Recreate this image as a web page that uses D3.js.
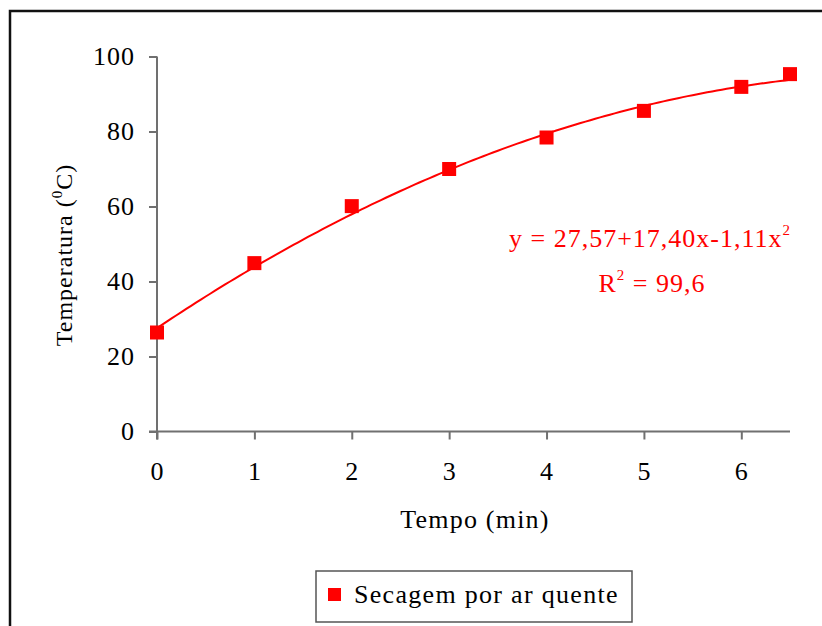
<!DOCTYPE html>
<html>
<head>
<meta charset="utf-8">
<script src="https://cdn.jsdelivr.net/npm/d3@7/dist/d3.min.js"></script>
<style>
  html, body { margin: 0; padding: 0; background: #fff; }
  svg text { font-family: "Liberation Serif", "Times New Roman", serif; }
</style>
</head>
<body>
<svg id="chart" width="822" height="626"></svg>
<script>
// Measured drying temperatures (°C) over time (min)
const tempo = [0, 1, 2, 3, 4, 5, 6, 6.5];
const temperatura = [26.4, 44.9, 60.1, 70.0, 78.4, 85.5, 91.9, 95.3];
// Quadratic fit: y = c0 + c1*x + c2*x^2
const coeficientes = [27.57, 17.40, -1.11];
const xTicks = [0, 1, 2, 3, 4, 5, 6];
const yTicks = [0, 20, 40, 60, 80, 100];
const serieNome = "Secagem por ar quente";

const svg = d3.select("#chart");
const red = "#ff0000";
const axisColor = "#707070";
const serif = "'Liberation Serif', 'Times New Roman', serif";

// outer frame
svg.append("rect")
  .attr("x", 10).attr("y", 11).attr("width", 840).attr("height", 640)
  .attr("fill", "none").attr("stroke", "#111").attr("stroke-width", 2.5);

const x = d3.scaleLinear().domain([0, 6.5]).range([157, 790]);
const y = d3.scaleLinear().domain([0, 100]).range([431.5, 56.5]);

const fontSize = 26;

// y axis
const yAxis = svg.append("g").attr("transform", `translate(${x(0)},0)`)
  .call(d3.axisLeft(y).tickValues(yTicks).tickSize(8).tickPadding(14).tickFormat(d3.format("d")));
// x axis
const xAxis = svg.append("g").attr("transform", `translate(0,${y(0)})`)
  .call(d3.axisBottom(x).tickValues(xTicks).tickSize(8).tickPadding(22).tickFormat(d3.format("d")));
xAxis.select(".domain").attr("d", `M${x(0) - 8},0H${x(6.5)}`);
yAxis.select(".domain").attr("d", `M0,${y(0) + 8}V${y(100)}`);

[xAxis, yAxis].forEach(g => {
  g.attr("font-family", serif);
  g.selectAll(".domain, .tick line").attr("stroke", axisColor).attr("stroke-width", 2);
  g.selectAll(".tick text")
    .attr("fill", "#000")
    .style("font-size", fontSize + "px")
    .style("font-family", serif)
    .style("letter-spacing", "1px");
});

// trend line from the fitted coefficients
const fit = v => coeficientes[0] + coeficientes[1] * v + coeficientes[2] * v * v;
const xs = d3.range(0, 6.5001, 0.05);
svg.append("path")
  .datum(xs)
  .attr("fill", "none").attr("stroke", red).attr("stroke-width", 2)
  .attr("d", d3.line().x(d => x(d)).y(d => y(fit(d))));

// measured points
const ms = 14;
svg.append("g").selectAll("rect")
  .data(tempo.map((t, i) => [t, temperatura[i]]))
  .join("rect")
  .attr("x", d => x(d[0]) - ms / 2)
  .attr("y", d => y(d[1]) - ms / 2)
  .attr("width", ms).attr("height", ms)
  .attr("fill", red);

// axis titles
svg.append("text")
  .attr("x", 475).attr("y", 528)
  .attr("text-anchor", "middle")
  .style("font-size", fontSize + "px").style("letter-spacing", "1.2px")
  .text("Tempo (min)");

const yt = svg.append("text")
  .attr("transform", "translate(72,255) rotate(-90)")
  .attr("text-anchor", "middle")
  .style("font-size", "24px").style("letter-spacing", "1px");
yt.append("tspan").text("Temperatura (");
yt.append("tspan").attr("dy", -10).style("font-size", "15px").text("0");
yt.append("tspan").attr("dy", 10).text("C)");

// fitted equation
const eq = svg.append("text")
  .attr("x", 650).attr("y", 247)
  .attr("text-anchor", "middle").attr("fill", red)
  .style("font-size", fontSize + "px").style("letter-spacing", "1px");
eq.append("tspan").text("y = 27,57+17,40x-1,11x");
eq.append("tspan").attr("dy", -12).style("font-size", "15px").text("2");

const r2 = svg.append("text")
  .attr("x", 652).attr("y", 292)
  .attr("text-anchor", "middle").attr("fill", red)
  .style("font-size", fontSize + "px").style("letter-spacing", "1px");
r2.append("tspan").text("R");
r2.append("tspan").attr("dy", -12).style("font-size", "15px").text("2");
r2.append("tspan").attr("dy", 12).text(" = 99,6");

// legend
const lg = svg.append("g");
lg.append("rect")
  .attr("x", 316).attr("y", 571).attr("width", 316).attr("height", 51)
  .attr("fill", "#fff").attr("stroke", "#555").attr("stroke-width", 1.5);
lg.append("rect")
  .attr("x", 328).attr("y", 588).attr("width", 13).attr("height", 13)
  .attr("fill", red);
lg.append("text")
  .attr("x", 354).attr("y", 603)
  .style("font-size", fontSize + "px").style("letter-spacing", "1.3px")
  .text(serieNome);
</script>
</body>
</html>
